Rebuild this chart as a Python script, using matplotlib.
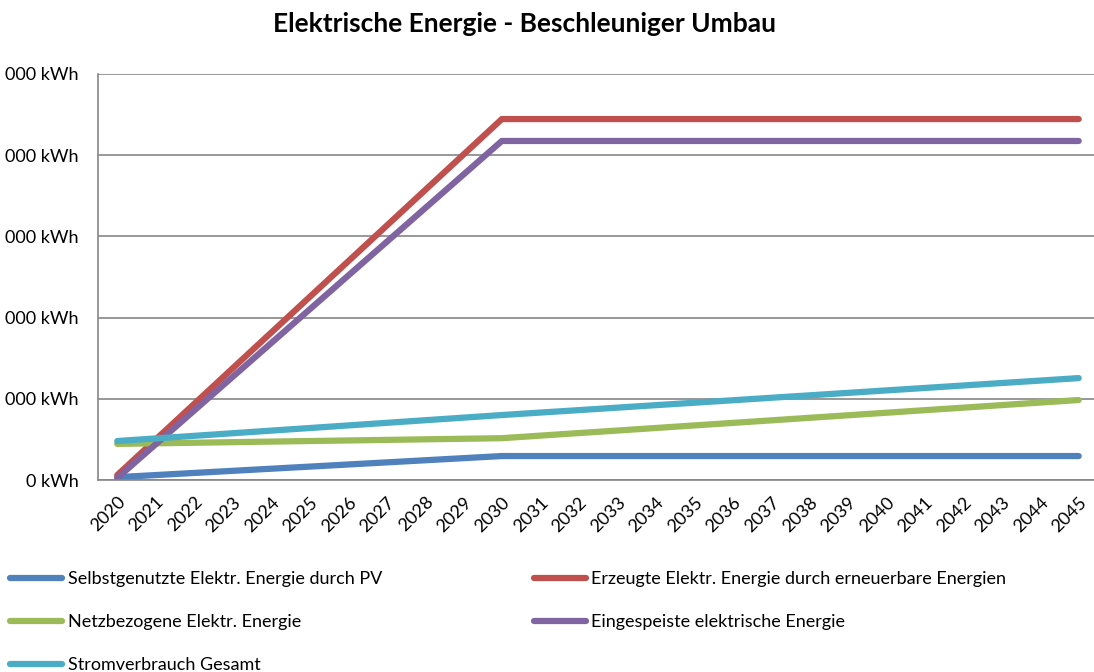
import matplotlib.pyplot as plt
import numpy as np

plt.rcParams['font.family'] = ['Lato', 'DejaVu Sans']

years = [str(y) for y in range(2020, 2046)]

# kWh per year
pv_self = [7000, 12200, 17400, 22600, 27800, 33000, 38200, 43400, 48600, 53800, 59000,
           59000, 59000, 59000, 59000, 59000, 59000, 59000, 59000, 59000, 59000,
           59000, 59000, 59000, 59000, 59000]
renewable = [12000, 99700, 187400, 275100, 362800, 450500, 538200, 625900, 713600, 801300, 889000,
             889000, 889000, 889000, 889000, 889000, 889000, 889000, 889000, 889000, 889000,
             889000, 889000, 889000, 889000, 889000]
grid = [89000, 90400, 91800, 93200, 94600, 96000, 97400, 98800, 100200, 101600, 103000,
        109300, 115600, 121800, 128100, 134400, 140600, 146900, 153200, 159400, 165700,
        172000, 178200, 184500, 190800, 197000]
fed_in = [5000, 88000, 171000, 254000, 337000, 420000, 503000, 586000, 669000, 752000, 835000,
          835000, 835000, 835000, 835000, 835000, 835000, 835000, 835000, 835000, 835000,
          835000, 835000, 835000, 835000, 835000]
total = [96000, 102400, 108800, 115200, 121600, 128000, 134400, 140800, 147200, 153600, 160000,
         166100, 172100, 178200, 184300, 190300, 196400, 202500, 208500, 214600, 220700,
         226700, 232800, 238900, 244900, 251000]

y_ticks = [0, 200000, 400000, 600000, 800000, 1000000]
# the leading digits are cropped in the source image; only this part is visible
y_labels = ['0 kWh', '000 kWh', '000 kWh', '000 kWh', '000 kWh', '000 kWh']

fig = plt.figure(figsize=(10.94, 6.72), dpi=100)
ax = fig.add_axes([0.0896, 0.2857, 0.914, 0.6042])

x = np.arange(len(years))
lw = 4.5
l1, = ax.plot(x, pv_self, color='#4F81BD', lw=lw, solid_capstyle='round',
              label='Selbstgenutzte Elektr. Energie durch PV')
l2, = ax.plot(x, renewable, color='#C0504D', lw=lw, solid_capstyle='round',
              label='Erzeugte Elektr. Energie durch erneuerbare Energien')
l3, = ax.plot(x, grid, color='#9BBB59', lw=lw, solid_capstyle='round',
              label='Netzbezogene Elektr. Energie')
l4, = ax.plot(x, fed_in, color='#8064A2', lw=lw, solid_capstyle='round',
              label='Eingespeiste elektrische Energie')
l5, = ax.plot(x, total, color='#4BACC6', lw=lw, solid_capstyle='round',
              label='Stromverbrauch Gesamt')

ax.set_xlim(-0.5, len(years) - 0.5)
ax.set_ylim(0, 1000000)
ax.set_xticks(x)
ax.set_xticklabels(years, rotation=45, ha='right', rotation_mode='anchor', fontsize=13)
ax.set_yticks(y_ticks)
ax.set_yticklabels(y_labels, fontsize=13)
ax.tick_params(axis='both', length=0)
ax.tick_params(axis='y', pad=14)
ax.tick_params(axis='x', pad=10)

ax.yaxis.grid(True, color='#868686', lw=1.2)
ax.set_axisbelow(True)
for s in ['top', 'right']:
    ax.spines[s].set_visible(False)
for s in ['left', 'bottom']:
    ax.spines[s].set_color('#868686')
    ax.spines[s].set_linewidth(1.2)

fig.text(0.479, 0.964, 'Elektrische Energie - Beschleuniger Umbau', ha='center', va='center',
         fontsize=19, fontweight='bold')

fig.legend(handles=[l1, l3, l5, l2, l4], loc='upper left', bbox_to_anchor=(0.009, 0.150),
           ncol=2, frameon=False, fontsize=13, handlelength=2.9, handletextpad=0.3,
           columnspacing=8.4, labelspacing=1.5, borderaxespad=0, borderpad=0)

fig.savefig('out.png', dpi=100)
